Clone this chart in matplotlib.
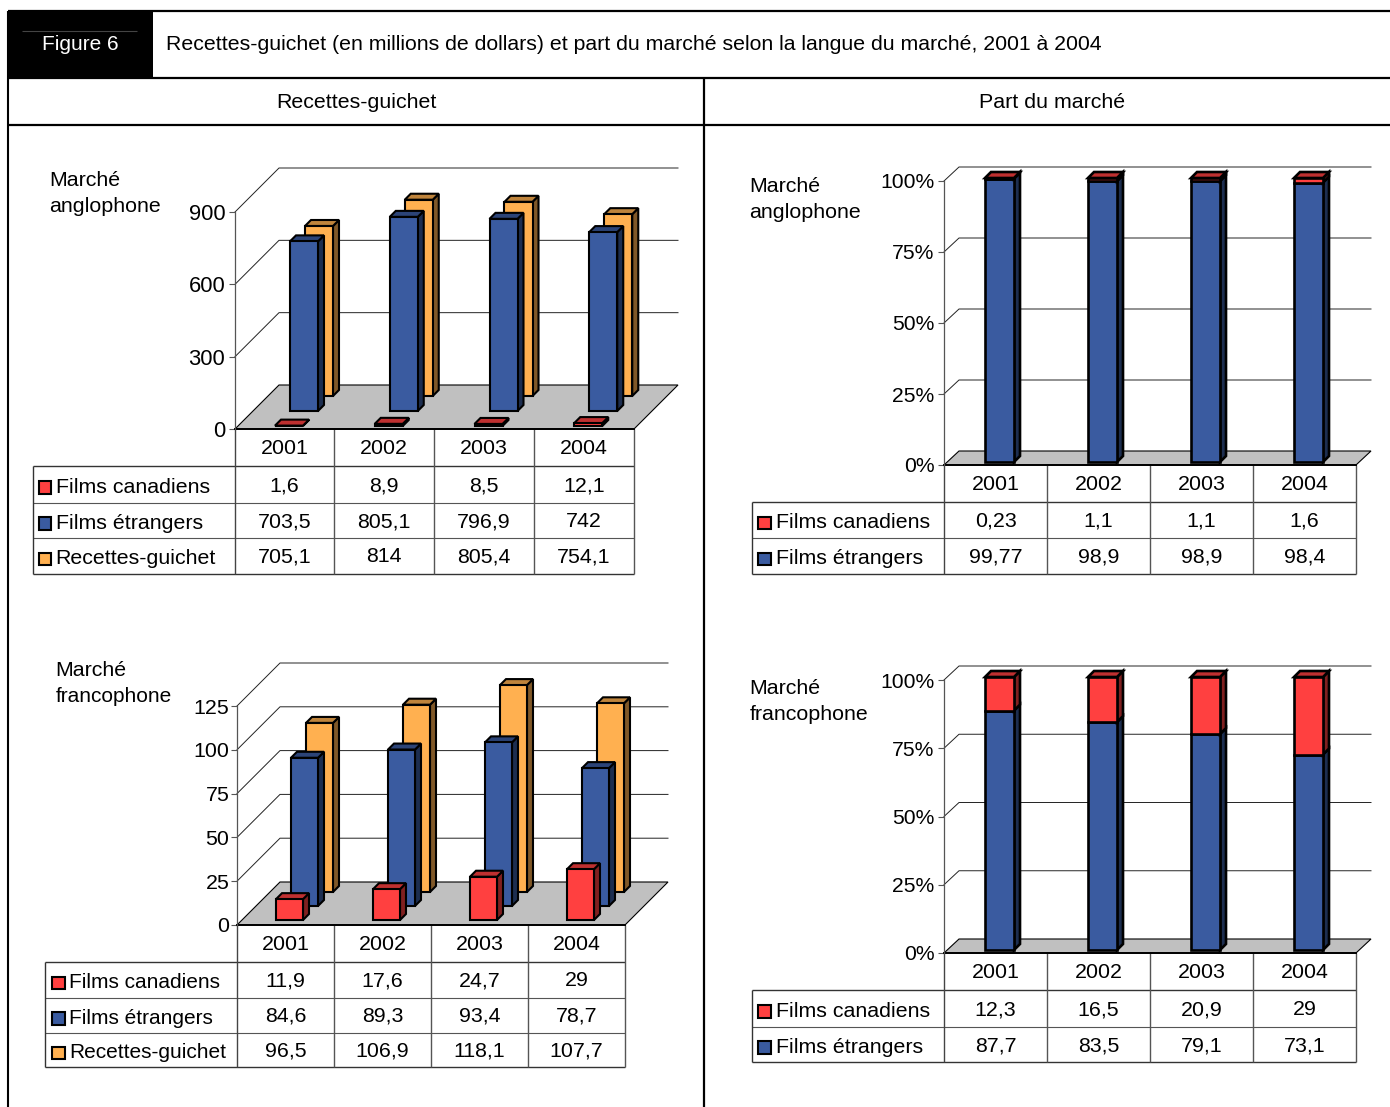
import matplotlib
matplotlib.use('Agg')
import matplotlib.pyplot as plt
from matplotlib.patches import Polygon, Rectangle

plt.rcParams['font.family'] = ['Liberation Sans', 'DejaVu Sans']

W = 1390
H = 1107

years = ['2001', '2002', '2003', '2004']

# recettes-guichet, en millions de dollars
ang_can = [1.6, 8.9, 8.5, 12.1]
ang_etr = [703.5, 805.1, 796.9, 742]
ang_rec = [705.1, 814, 805.4, 754.1]

fra_can = [11.9, 17.6, 24.7, 29]
fra_etr = [84.6, 89.3, 93.4, 78.7]
fra_rec = [96.5, 106.9, 118.1, 107.7]

# part du marché, en pourcentage
part_ang_can = [0.23, 1.1, 1.1, 1.6]
part_ang_etr = [99.77, 98.9, 98.9, 98.4]
part_fra_can = [12.3, 16.5, 20.9, 29]
part_fra_etr = [87.7, 83.5, 79.1, 73.1]

money_ticks_ang = [0, 300, 600, 900]
money_ticks_fra = [0, 25, 50, 75, 100, 125]
pct_ticks = [0, 25, 50, 75, 100]

RED = ('#FF4040', '#BF3030', '#802020')
BLUE = ('#3A5BA0', '#2C4478', '#1D2E50')
ORANGE = ('#FFB050', '#BF843C', '#805828')

TEXT_SIZE = 15.4

fig = plt.figure(figsize=(W / 100, H / 100), dpi=100)
page = fig.add_axes([0, 0, 1, 1])
page.set_xlim(0, W)
page.set_ylim(H, 0)
page.axis('off')


def hline(y, x0, x1, color='black', lw=1.0):
    page.plot([x0, x1], [y, y], color=color, lw=lw, solid_capstyle='butt')


def vline(x, y0, y1, color='black', lw=1.0):
    page.plot([x, x], [y0, y1], color=color, lw=lw, solid_capstyle='butt')


def label(x, y, s, ha='center', color='black', size=TEXT_SIZE):
    page.text(x, y + 1, s, ha=ha, va='center', color=color, fontsize=size)


def fmt(v):
    return f'{v:g}'.replace('.', ',')


class Chart:
    # oblique 3D chart, axes cover the front plane of the box
    def __init__(self, x0, x1, y0, ytop, ymax, ticks, tick_labels, dx, dy, tick_size=15.8, pad=3):
        self.ax = fig.add_axes([x0 / W, 1 - y0 / H, (x1 - x0) / W, (y0 - ytop) / H])
        self.ax.patch.set_alpha(0)
        self.ax.set_xlim(0, 4)
        self.ax.set_ylim(0, ymax)
        self.kx = 4 / (x1 - x0)
        self.ky = ymax / (y0 - ytop)
        self.cat_w = (x1 - x0) / 4
        ax = self.ax
        for side in ['top', 'right', 'bottom']:
            ax.spines[side].set_visible(False)
        ax.spines['left'].set_color('#555555')
        ax.spines['left'].set_linewidth(0.9)
        ax.set_xticks([])
        ax.set_yticks(ticks)
        ax.set_yticklabels(tick_labels)
        ax.tick_params(axis='y', length=4, width=0.8, color='#555555', pad=pad, labelsize=tick_size)

        # floor of the box
        floor = [(0, 0), (4, 0), (4 + dx * self.kx, dy * self.ky), (dx * self.kx, dy * self.ky)]
        ax.add_patch(Polygon(floor, fc='#C0C0C0', ec='black', lw=0.8, clip_on=False, zorder=1))
        # wall lines
        for t in ticks:
            if t == 0:
                continue
            ax.plot([0, dx * self.kx, 4 + dx * self.kx],
                    [t, t + dy * self.ky, t + dy * self.ky],
                    color='#222222', lw=0.7, clip_on=False, zorder=1)
        ax.plot([0, 4], [0, 0], color='black', lw=1.4, clip_on=False, zorder=2)

    def pt(self, x, y, d):
        return (x + d * self.kx, y + d * self.ky)

    def box(self, i, off, bw, d, low, high, colors, lw=1.4, depth=6, top=True, z=3):
        l = i + off / self.cat_w
        r = l + bw / self.cat_w
        pt = self.pt
        front = [pt(l, low, d), pt(r, low, d), pt(r, high, d), pt(l, high, d)]
        side = [pt(r, low, d), pt(r, low, d + depth), pt(r, high, d + depth), pt(r, high, d)]
        cap = [pt(l, high, d), pt(r, high, d), pt(r, high, d + depth), pt(l, high, d + depth)]
        faces = [(side, colors[2])]
        if top:
            faces.append((cap, colors[1]))
        faces.append((front, colors[0]))
        for verts, c in faces:
            self.ax.add_patch(Polygon(verts, fc=c, ec='black', lw=lw, joinstyle='miter',
                                      clip_on=False, zorder=z))

    def clustered(self, series, colors, offs, bw, depths):
        # back row first so the front rows cover it
        for vals, col, off, d in reversed(list(zip(series, colors, offs, depths))):
            for i, v in enumerate(vals):
                self.box(i, off, bw, d, 0, v, col, lw=1.5)

    def stacked(self, low_vals, high_vals, off, bw, d):
        # each column is scaled to its own total, so it always reaches 100%
        for i in range(4):
            total = low_vals[i] + high_vals[i]
            split = low_vals[i] / total * 100
            self.box(i, off, bw, d, 0, split, BLUE, lw=1.9, top=False)
            self.box(i, off, bw, d, split, 100, RED, lw=1.9, z=4)


def data_table(x_left, xs, y_head, rows_y, names, colors, values, marker_x, text_x, size=TEXT_SIZE):
    # year row, then one row per series with its colour key
    hline(rows_y[0], x_left, xs[-1], color='#333333')
    hline(rows_y[-1], x_left, xs[-1], color='#333333')
    for y in rows_y[1:-1]:
        hline(y, x_left, xs[-1], color='#555555', lw=0.8)
    vline(x_left, rows_y[0], rows_y[-1], color='#333333')
    vline(xs[0], y_head, rows_y[-1], color='#444444')
    for x in xs[1:]:
        vline(x, y_head, rows_y[-1], color='#555555')
    for i, yr in enumerate(years):
        label((xs[i] + xs[i + 1]) / 2, (y_head + rows_y[0]) / 2, yr)
    for r, name in enumerate(names):
        ym = (rows_y[r] + rows_y[r + 1]) / 2
        page.add_patch(Rectangle((marker_x, ym - 3.5), 12.5, 12.5, fc=colors[r], ec='black', lw=1.5))
        label(text_x, ym + 2, name, ha='left', size=size)
        for i, v in enumerate(values[r]):
            label((xs[i] + xs[i + 1]) / 2, ym, fmt(v))


# page frame and headings
page.add_patch(Rectangle((7.5, 10), 145.5, 68.5, fc='black', ec='none'))
hline(31, 22, 137, color='#444444', lw=0.8)
hline(11, 8, W, lw=1.6)
hline(78, 8, W, lw=1.6)
hline(125, 8, W, lw=1.6)
vline(8, 11, H, lw=1.5)
vline(704, 78, H, lw=1.6)
label(80, 43, 'Figure 6', color='white', size=15)
label(166, 43, 'Recettes-guichet (en millions de dollars) et part du marché selon la langue du marché, 2001 à 2004',
      ha='left', size=15.35)
label(356, 101, 'Recettes-guichet', size=15.4)
label(1052, 101, 'Part du marché', size=15.4)

label(49.5, 180, 'Marché', ha='left')
label(49.5, 206, 'anglophone', ha='left')
label(749.5, 185, 'Marché', ha='left')
label(749.5, 211, 'anglophone', ha='left')
label(55.5, 669, 'Marché', ha='left')
label(55.5, 695, 'francophone', ha='left', size=15)
label(749.5, 688, 'Marché', ha='left')
label(749.5, 714, 'francophone', ha='left')

pct_labels = [f'{t}%' for t in pct_ticks]
names3 = ['Films canadiens', 'Films étrangers', 'Recettes-guichet']
names2 = ['Films canadiens', 'Films étrangers']

# recettes, marché anglophone
c = Chart(235, 634, 429, 212, 900, money_ticks_ang, money_ticks_ang, 44, 44)
c.clustered([ang_can, ang_etr, ang_rec], [RED, BLUE, ORANGE], [37, 37, 37], 28, [3, 18, 33])
data_table(33, [235, 334, 434, 534, 634], 429, [466, 503, 538, 574], names3,
           [RED[0], BLUE[0], ORANGE[0]], [ang_can, ang_etr, ang_rec], 38.5, 55.5)

# recettes, marché francophone
c = Chart(237, 625, 925, 706, 125, money_ticks_fra, money_ticks_fra, 43, 43, tick_size=15.4, pad=1.5)
c.clustered([fra_can, fra_etr, fra_rec], [RED, BLUE, ORANGE], [34, 35, 36], 27, [5, 19, 33])
data_table(45, [237, 334, 431, 528, 625], 925, [962, 998, 1033, 1067], names3,
           [RED[0], BLUE[0], ORANGE[0]], [fra_can, fra_etr, fra_rec], 52, 69, size=15)

# part du marché, anglophone
c = Chart(944, 1356, 465, 181, 100, pct_ticks, pct_labels, 15, 14, tick_size=15.2)
c.stacked(part_ang_etr, part_ang_can, 38, 29, 3)
data_table(752, [944, 1047, 1150, 1253, 1356], 465, [502, 538, 574], names2,
           [RED[0], BLUE[0]], [part_ang_can, part_ang_etr], 758, 775.5)

# part du marché, francophone
c = Chart(944, 1356, 953, 680, 100, pct_ticks, pct_labels, 15, 14, tick_size=15.2)
c.stacked(part_fra_etr, part_fra_can, 38, 29, 3)
data_table(752, [944, 1047, 1150, 1253, 1356], 953, [990, 1027, 1062], names2,
           [RED[0], BLUE[0]], [part_fra_can, part_fra_etr], 758, 775.5)

fig.savefig('out.png', dpi=100)
